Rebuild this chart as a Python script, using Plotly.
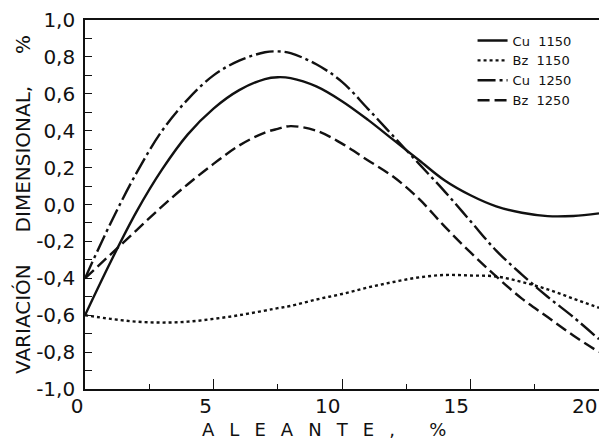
import plotly.graph_objects as go

# Data
aleante = [0, 1, 2, 3, 4, 5, 6, 7, 7.5, 8, 9, 10, 11, 12, 13, 14, 15, 16, 17, 18, 19, 20]

cu_1150 = [-0.60, -0.31, -0.04, 0.19, 0.38, 0.52, 0.62, 0.68, 0.69, 0.685, 0.64, 0.56,
           0.46, 0.35, 0.24, 0.13, 0.05, -0.01, -0.045, -0.063, -0.062, -0.048]
bz_1150 = [-0.60, -0.62, -0.635, -0.64, -0.635, -0.62, -0.60, -0.575, -0.562, -0.55, -0.515, -0.485,
           -0.45, -0.42, -0.395, -0.382, -0.385, -0.39, -0.42, -0.46, -0.51, -0.56]
cu_1250 = [-0.40, -0.10, 0.17, 0.40, 0.57, 0.70, 0.78, 0.825, 0.83, 0.82, 0.76, 0.665,
           0.52, 0.37, 0.22, 0.07, -0.09, -0.25, -0.38, -0.50, -0.61, -0.73]
bz_1250 = [-0.40, -0.27, -0.14, -0.01, 0.11, 0.22, 0.32, 0.39, 0.41, 0.425, 0.40, 0.33,
           0.24, 0.15, 0.03, -0.12, -0.26, -0.39, -0.51, -0.61, -0.71, -0.80]

series_names = ["Cu  1150", "Bz  1150", "Cu  1250", "Bz  1250"]
series_values = [cu_1150, bz_1150, cu_1250, bz_1250]
series_dash = ["solid", "3px,3px", "18px,4px,3px,4px", "12px,5px"]

y_tickvals = [1.0, 0.8, 0.6, 0.4, 0.2, 0.0, -0.2, -0.4, -0.6, -0.8, -1.0]
y_ticktext = ["1,0", "0,8", "0,6", "0,4", "0,2", "0,0", "-0,2", "-0,4", "-0,6", "-0,8", "-1,0"]
x_tickvals = [0, 5, 10, 15, 20]
x_ticktext = ["0", "5", "10", "15", "20"]

FONT = "DejaVu Sans"
INK = "#111111"
nb = "\u00a0"
thin = "\u2009"

fig = go.Figure()
for name, vals, dash in zip(series_names, series_values, series_dash):
    fig.add_trace(go.Scatter(
        x=aleante, y=vals, name=name.replace(" ", nb), mode="lines",
        line=dict(color=INK, width=2.4, dash=dash, shape="spline", smoothing=1.0),
    ))

x_title = (nb * 2 + thin).join(list("ALEANTE,")) + nb * 6 + "%"
y_title = "VARIACIÓN" + nb * 5 + "DIMENSIONAL," + nb * 5 + "%"

fig.update_layout(
    width=599, height=441,
    margin=dict(l=85, r=0, t=20, b=52, autoexpand=False),
    paper_bgcolor="white", plot_bgcolor="white",
    font=dict(family=FONT, color=INK),
    showlegend=True,
    legend=dict(
        x=0.754, y=0.985, xanchor="left", yanchor="top",
        bgcolor="rgba(0,0,0,0)", borderwidth=0,
        font=dict(family=FONT, size=13, color=INK),
        tracegroupgap=0,
    ),
    xaxis=dict(
        range=[0, 20], showgrid=False, zeroline=False, automargin=False,
        showline=True, linecolor=INK, linewidth=1.6, mirror=True,
        ticks="inside", ticklen=10, tickwidth=1.3, tickcolor=INK,
        tickvals=x_tickvals, ticktext=x_ticktext,
        tickfont=dict(family=FONT, size=20, color=INK),
        ticklabelposition="outside left", ticklabelstandoff=-2,
        ticklabeloverflow="allow",
        minor=dict(tickvals=[2.5, 7.5, 12.5, 17.5], ticks="inside", ticklen=5,
                   tickwidth=1.3, tickcolor=INK, showgrid=False),
    ),
    yaxis=dict(
        range=[-1, 1], showgrid=False, zeroline=False, automargin=False,
        showline=True, linecolor=INK, linewidth=1.6,
        ticks="inside", ticklen=7, tickwidth=1.3, tickcolor=INK,
        tickvals=y_tickvals, ticktext=y_ticktext,
        tickfont=dict(family=FONT, size=20, color=INK),
        ticklabelstandoff=4,
        minor=dict(dtick=0.1, ticks="inside", ticklen=7, tickwidth=1.3,
                   tickcolor=INK, showgrid=False),
        title=dict(text=y_title, font=dict(family=FONT, size=20, color=INK), standoff=0),
    ),
    annotations=[dict(
        text=x_title, xref="paper", yref="paper", x=0.2237, y=-0.11,
        xanchor="left", yanchor="middle", showarrow=False,
        font=dict(family=FONT, size=18, color=INK),
    )],
)

fig.write_html(
    "out.html",
    config={"displayModeBar": False},
    post_script="document.body.style.margin='0';document.body.style.overflow='hidden';",
)
